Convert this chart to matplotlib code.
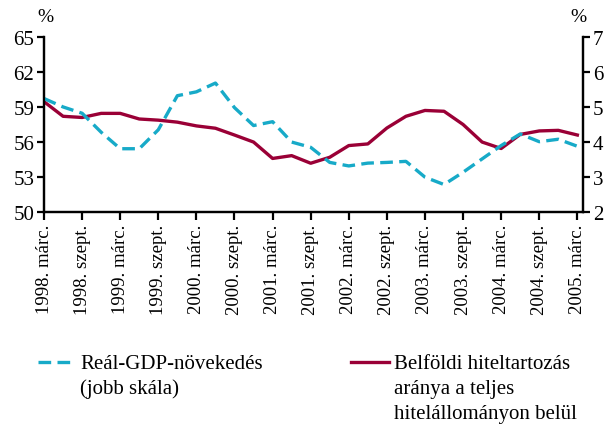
import matplotlib.pyplot as plt
from matplotlib.lines import Line2D
import numpy as np

plt.rcParams['font.family'] = ['Liberation Serif', 'DejaVu Serif']

# negyedéves adatok, 1998 Q1 - 2005 Q1
quarters = np.arange(29)
tick_labels = ['1998. márc.', '1998. szept.', '1999. márc.', '1999. szept.',
               '2000. márc.', '2000. szept.', '2001. márc.', '2001. szept.',
               '2002. márc.', '2002. szept.', '2003. márc.', '2003. szept.',
               '2004. márc.', '2004. szept.', '2005. márc.']

# belföldi hiteltartozás aránya (bal skála)
credit_share = [59.45, 58.2, 58.1, 58.45, 58.45, 57.97, 57.87, 57.7, 57.38, 57.18,
                56.6, 56.0, 54.6, 54.84, 54.19, 54.7, 55.7, 55.84, 57.2, 58.2,
                58.7, 58.63, 57.5, 56.0, 55.45, 56.65, 56.95, 57.0, 56.6]

# reál-GDP-növekedés (jobb skála)
gdp_growth = [5.24, 5.0, 4.82, 4.28, 3.81, 3.81, 4.35, 5.32, 5.43, 5.68,
              4.98, 4.47, 4.58, 4.0, 3.85, 3.42, 3.32, 3.4, 3.42, 3.45,
              3.0, 2.79, 3.14, 3.52, 3.9, 4.23, 4.01, 4.08, 3.88]

blue_label = ['Reál-GDP-növekedés', '(jobb skála)']
red_label = ['Belföldi hiteltartozás', 'aránya a teljes', 'hitelállományon belül']

red = '#9a0036'
blue = '#17aac8'
lw = 2.4

fig = plt.figure(figsize=(6.08, 4.27), dpi=100)
ax = fig.add_axes([0.0724, 0.5005, 0.8866, 0.4112])
ax2 = ax.twinx()

ax.plot(quarters, credit_share, color=red, lw=lw)
ax2.plot(quarters, gdp_growth, color=blue, lw=lw, dashes=(3.8, 1.9))

ax.set_xlim(0, 28.3)
ax.set_ylim(50, 65)
ax.set_yticks(np.arange(50, 66, 3))
ax2.set_ylim(2, 7)
ax2.set_yticks(np.arange(2, 8, 1))
ax.set_xticks(quarters[::2])
ax.set_xticklabels(tick_labels, rotation=90, fontsize=13.5)

for a in (ax, ax2):
    a.spines['top'].set_visible(False)
    for s in ('left', 'right', 'bottom'):
        a.spines[s].set_linewidth(1.6)
    a.tick_params(axis='y', width=1.6, length=5, labelsize=15, pad=2)
ax.tick_params(axis='x', width=1.6, length=6, pad=2)

fig.text(0.074, 0.958, '%', fontsize=14, ha='center', va='center')
fig.text(0.951, 0.958, '%', fontsize=14, ha='center', va='center')

# jelmagyarázat: minta a szöveg első sorához igazítva
def legend_entry(x_line, x_text, lines, **style):
    y_line = 1 - 363 / 427
    fig.add_artist(Line2D([x_line, x_line + 0.061], [y_line, y_line],
                          transform=fig.transFigure, lw=lw, **style))
    for i, txt in enumerate(lines):
        fig.text(x_text, 1 - (369 + 25 * i) / 427, txt, fontsize=15,
                 ha='left', va='baseline')

legend_entry(0.063, 0.132, blue_label, color=blue, dashes=(3.8, 1.9))
legend_entry(0.578, 0.648, red_label, color=red)

fig.savefig('out.png', dpi=100)
